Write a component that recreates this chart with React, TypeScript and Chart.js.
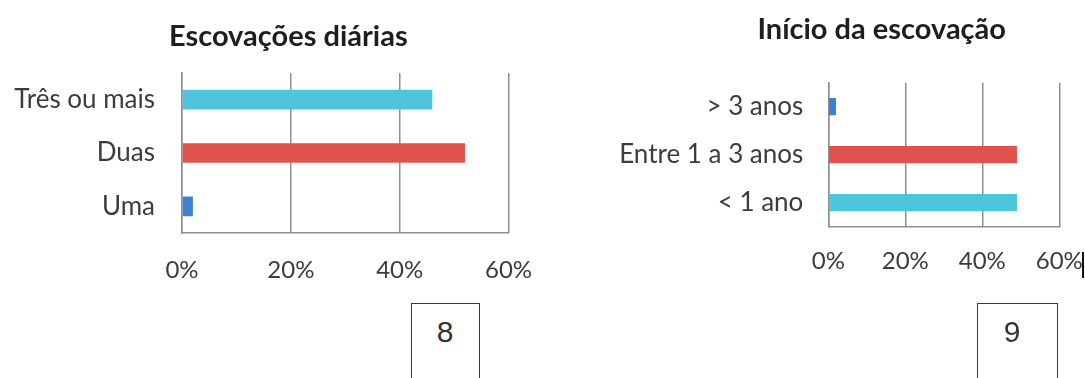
import React, { useEffect, useRef } from "react";
import { Chart, registerables } from "chart.js";

Chart.register(...registerables);

// ---- data ----
const leftTitle = "Escovações diárias";
const leftCategories = ["Três ou mais", "Duas", "Uma"];
const leftValues = [46, 52, 2];

const rightTitle = "Início da escovação";
const rightCategories = ["> 3 anos", "Entre 1 a 3 anos", "< 1 ano"];
const rightValues = [2, 49, 49];

const leftColors = ["#4ec4dd", "#e0534d", "#3d82d0"];
const rightColors = ["#3d82d0", "#e0534d", "#4ec4dd"];

const xMin = 0;
const xMax = 60;
const xStep = 20;

const figureLabels = ["8", "9"];

const GRID = "#8f8f8f";
const FONT = "Lato, 'Open Sans', sans-serif";

type Cfg = {
  title: string;
  titleX: number;
  titleY: number;
  cats: string[];
  vals: number[];
  colors: string[];
  width: number;
  height: number;
  padR: number;
  padTop: number;
  yWidth: number;
  yPad: number;
  xHeight: number;
  xPad: number;
  barPct: number;
};

function BarChart({ cfg, left }: { cfg: Cfg; left: number }) {
  const ref = useRef<HTMLCanvasElement | null>(null);
  useEffect(() => {
    if (!ref.current) return;
    const titlePlugin = {
      id: "posTitle",
      afterDraw(chart: any) {
        const ctx = chart.ctx;
        ctx.save();
        ctx.fillStyle = "#1e1e1e";
        ctx.font = `bold 29px ${FONT}`;
        ctx.textAlign = "center";
        ctx.textBaseline = "middle";
        ctx.fillText(cfg.title, cfg.titleX, cfg.titleY);
        ctx.restore();
      },
    };
    const chart = new Chart(ref.current, {
      type: "bar",
      data: {
        labels: cfg.cats,
        datasets: [
          {
            data: cfg.vals,
            backgroundColor: cfg.colors,
            borderWidth: 0,
            barPercentage: cfg.barPct,
            categoryPercentage: 1,
          },
        ],
      },
      plugins: [titlePlugin],
      options: {
        indexAxis: "y",
        responsive: false,
        animation: false,
        layout: { padding: { left: 0, right: cfg.padR, top: cfg.padTop, bottom: 0 } },
        plugins: {
          legend: { display: false },
          tooltip: { enabled: false },
          title: { display: false },
        },
        scales: {
          x: {
            min: xMin,
            max: xMax,
            grid: { color: GRID, lineWidth: 1.5, drawTicks: false },
            border: { display: true, color: GRID, width: 1.5 },
            ticks: {
              stepSize: xStep,
              padding: cfg.xPad,
              color: "#3c3c3c",
              font: { family: FONT, size: 24 },
              callback: (v: any) => `${v}%`,
            },
            afterFit: (s: any) => {
              s.height = cfg.xHeight;
            },
          },
          y: {
            grid: { display: false, drawTicks: false },
            border: { display: true, color: GRID, width: 1.5 },
            ticks: {
              padding: cfg.yPad,
              color: "#3c3c3c",
              font: { family: FONT, size: 26 },
            },
            afterFit: (s: any) => {
              s.width = cfg.yWidth;
            },
          },
        },
      },
    });
    const fonts = (document as any).fonts;
    if (fonts && fonts.load) {
      Promise.all([fonts.load("26px Lato"), fonts.load("bold 29px Lato")]).then(() => {
        try {
          chart.update();
        } catch (e) {}
      });
    }
    return () => chart.destroy();
  }, []);
  return (
    <canvas
      ref={ref}
      width={cfg.width}
      height={cfg.height}
      style={{ position: "absolute", left, top: 0, width: cfg.width, height: cfg.height }}
    />
  );
}

// left chart: plot area x 182..508.5, y 73..233
const leftCfg: Cfg = {
  title: leftTitle,
  titleX: 288.3,
  titleY: 36.5,
  cats: leftCategories,
  vals: leftValues,
  colors: leftColors,
  width: 560,
  height: 300,
  padR: 51.5,
  padTop: 73,
  yWidth: 182,
  yPad: 27,
  xHeight: 67,
  xPad: 23,
  barPct: 0.37,
};

// right chart (canvas at x=540): plot area x 828.3..1059.3, y 82.7..226.7
const rightCfg: Cfg = {
  title: rightTitle,
  titleX: 881.7 - 540,
  titleY: 30,
  cats: rightCategories,
  vals: rightValues,
  colors: rightColors,
  width: 570,
  height: 300,
  padR: 570 - (1059.3 - 540),
  padTop: 82.7,
  yWidth: 828.3 - 540,
  yPad: 25,
  xHeight: 300 - 226.7,
  xPad: 20.6,
  barPct: 0.36,
};

function FigBox({ left, width, label, cx }: { left: number; width: number; label: string; cx: number }) {
  return (
    <>
      <div
        style={{
          position: "absolute",
          left,
          top: 303,
          width,
          height: 100,
          border: "1.5px solid #3a3a3a",
          boxSizing: "border-box",
        }}
      />
      <div
        style={{
          position: "absolute",
          left: cx - 20,
          width: 40,
          top: 314,
          height: 36,
          lineHeight: "36px",
          textAlign: "center",
          fontFamily: "'Liberation Sans', Arial, sans-serif",
          fontSize: 30,
          color: "#333",
        }}
      >
        {label}
      </div>
    </>
  );
}

export default function App() {
  return (
    <div
      style={{
        position: "absolute",
        left: 0,
        top: 0,
        width: 1085,
        height: 378,
        overflow: "hidden",
        background: "#fff",
      }}
    >
      <BarChart cfg={leftCfg} left={0} />
      <BarChart cfg={rightCfg} left={540} />
      <FigBox left={410.5} width={69.5} label={figureLabels[0]} cx={445} />
      <FigBox left={977} width={81} label={figureLabels[1]} cx={1012} />
      <div
        style={{
          position: "absolute",
          left: 1082,
          top: 252,
          width: 2,
          height: 26,
          background: "#111",
        }}
      />
    </div>
  );
}
